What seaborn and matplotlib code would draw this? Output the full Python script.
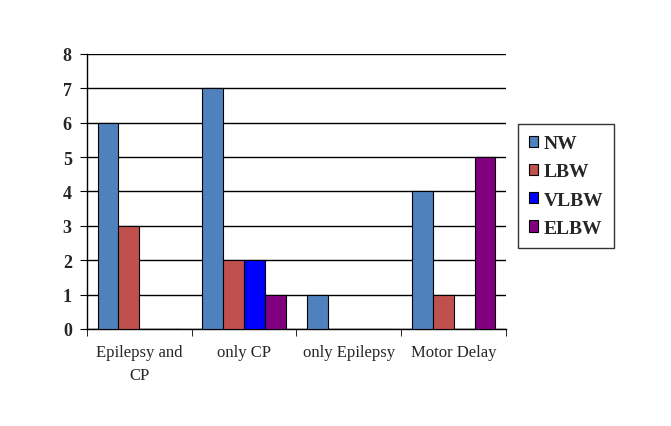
import pandas as pd
import numpy as np
import matplotlib.pyplot as plt
import seaborn as sns

categories = ["Epilepsy and\nCP", "only CP", "only Epilepsy", "Motor Delay"]
series = ["NW", "LBW", "VLBW", "ELBW"]
nw = [6, 7, 1, 4]
lbw = [3, 2, 0, 1]
vlbw = [0, 2, 0, 0]
elbw = [0, 1, 0, 5]
colors = ["#4F81BD", "#C0504D", "#0000FF", "#800080"]

df = pd.DataFrame({
    "category": categories * 4,
    "group": [s for s in series for _ in categories],
    "count": nw + lbw + vlbw + elbw,
})

sns.set_style("white")
plt.rcParams['font.family'] = ['Liberation Serif', 'DejaVu Serif']

fig = plt.figure(figsize=(6.71, 4.27), dpi=100)
ax = fig.add_axes([0.1297, 0.2272, 0.6243, 0.644])

sns.barplot(data=df, x="category", y="count", hue="group", order=categories,
            hue_order=series, palette=colors, width=0.8, saturation=1,
            edgecolor="black", linewidth=0.8, ax=ax, zorder=3)

ax.set_ylim(0, 8)
ax.set_xlim(-0.5, 3.5)
ax.set_yticks(range(0, 9))
ax.yaxis.grid(True, color="black", linewidth=1)
ax.set_axisbelow(True)
for s in ["top", "right"]:
    ax.spines[s].set_visible(False)
for s in ["left", "bottom"]:
    ax.spines[s].set_color("black")
    ax.spines[s].set_linewidth(1)

ax.set_xticks(np.arange(-0.5, 4, 1), minor=True)
ax.tick_params(axis="x", which="major", length=0, labelsize=12, pad=11)
ax.tick_params(axis="x", which="minor", length=5, color="black", direction="out", bottom=True)
ax.tick_params(axis="y", length=5, color="black", direction="out", left=True, labelsize=13, pad=6)
for t in ax.get_yticklabels():
    t.set_fontweight("bold")
for t in ax.get_xticklabels():
    t.set_linespacing(1.6)
ax.set_xlabel("")
ax.set_ylabel("")

leg = ax.legend(loc="center left", bbox_to_anchor=(1.029, 0.52), borderaxespad=0,
                frameon=True, fancybox=False, edgecolor="black",
                handlelength=0.5, handleheight=0.5, handletextpad=0.25,
                labelspacing=0.58, borderpad=0.55,
                prop={"weight": "bold", "size": 14})
leg.get_frame().set_linewidth(1)

fig.savefig("out.png", dpi=100)
